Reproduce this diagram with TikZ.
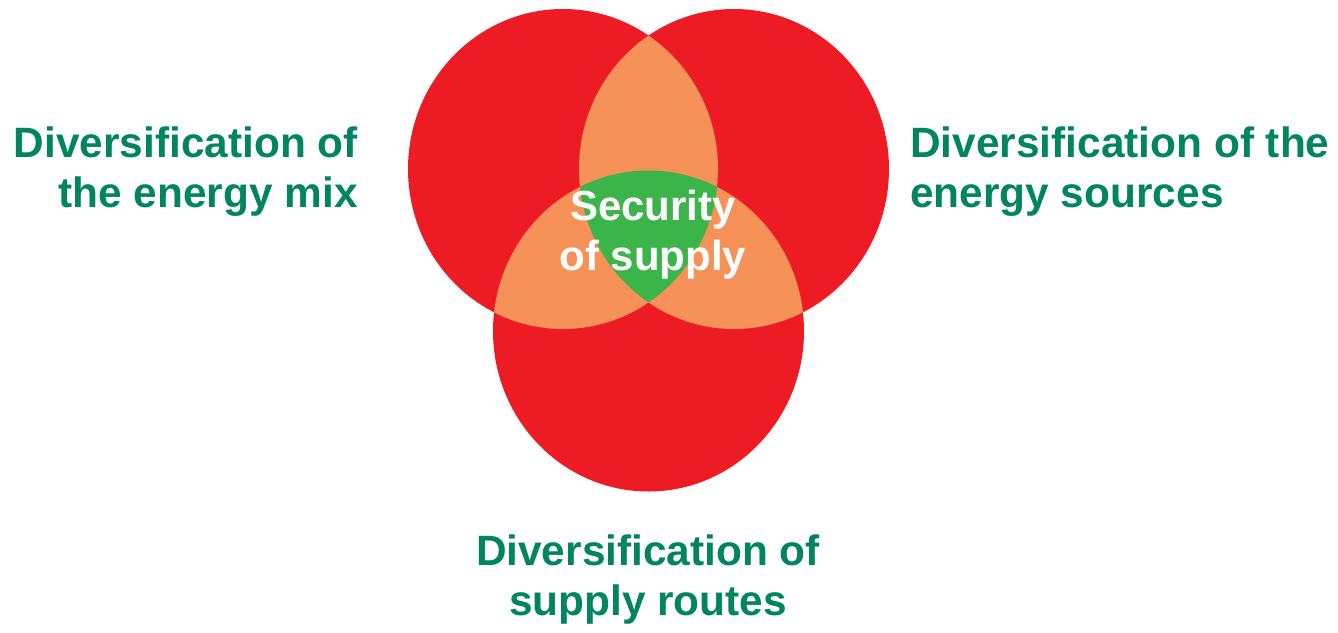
\documentclass[tikz,border=0pt]{standalone}
\usepackage{fontspec}
\setmainfont{Liberation Sans}
\usepackage{tikz}

\definecolor{vennred}{HTML}{ED1C24}
\definecolor{vennorange}{HTML}{F69157}
\definecolor{venngreen}{HTML}{3BB44A}
\definecolor{labelgreen}{HTML}{00855F}

\begin{document}
\begin{tikzpicture}[x=1pt,y=-1pt,
  label text/.style={text=labelgreen,font=\fontsize{42.4}{50}\selectfont\bfseries,inner sep=0pt},
  center text/.style={text=white,font=\fontsize{42}{50}\selectfont\bfseries,inner sep=0pt,align=center}]

\useasboundingbox (0,0) rectangle (1338,632);

\coordinate (mix) at (563,169);
\coordinate (src) at (734,169);
\coordinate (rts) at (648.5,331);

% the three circles
\fill[vennred] (mix) ellipse (155pt and 160pt);
\fill[vennred] (src) ellipse (155pt and 160pt);
\fill[vennred] (rts) ellipse (155.5pt and 160.5pt);

% pairwise overlaps
\begin{scope}
\clip (mix) ellipse (155pt and 160pt);
\fill[vennorange] (src) ellipse (155pt and 160pt);
\fill[vennorange] (rts) ellipse (155.5pt and 160.5pt);
\end{scope}
\begin{scope}
\clip (src) ellipse (155pt and 160pt);
\fill[vennorange] (rts) ellipse (155.5pt and 160.5pt);
\end{scope}

% all three
\begin{scope}
\clip (mix) ellipse (155pt and 160pt);
\clip (src) ellipse (155pt and 160pt);
\fill[venngreen] (rts) ellipse (155.5pt and 160.5pt);
\end{scope}

\node[center text,anchor=base] (sec) at (653,270) {Security\\of supply};

\node[label text,anchor=base east,align=right] (mixlabel) at (358,207) {Diversification of\\the energy mix};
\node[label text,anchor=base west,align=left] (srclabel) at (910,207) {Diversification of the\\energy sources};
\node[label text,anchor=base,align=center] (rtslabel) at (648,615) {Diversification of\\supply routes};

\end{tikzpicture}
\end{document}
